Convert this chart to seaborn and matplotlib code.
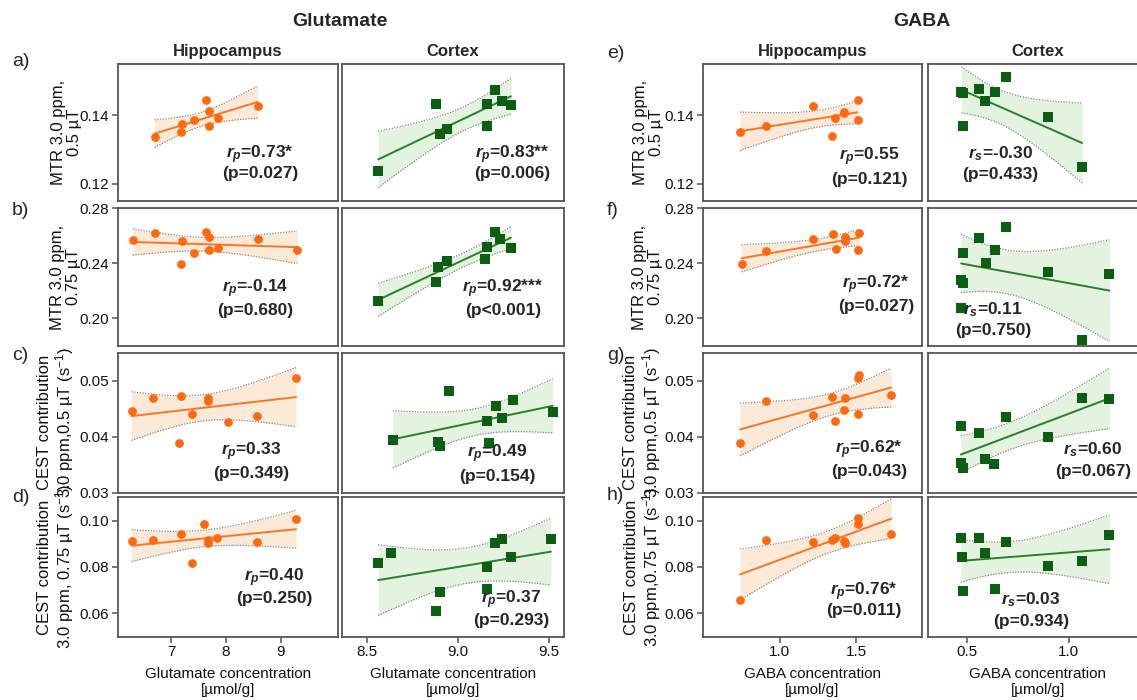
import numpy as np
import matplotlib
matplotlib.use("Agg")
import matplotlib.pyplot as plt
import seaborn as sns

# ---------------- data ----------------
# Glutamate - Hippocampus
glu_hip_a_x = [6.70, 7.18, 7.20, 7.41, 7.63, 7.70, 7.70, 7.86, 8.58]
glu_hip_a_y = [0.1338, 0.1350, 0.1374, 0.1387, 0.1446, 0.1413, 0.1369, 0.1393, 0.1427]
glu_hip_b_x = [6.30, 6.70, 7.18, 7.20, 7.41, 7.63, 7.70, 7.70, 7.86, 8.58, 9.30]
glu_hip_b_y = [0.2571, 0.2618, 0.2398, 0.2563, 0.2474, 0.2630, 0.2594, 0.2498, 0.2510, 0.2578, 0.2498]
glu_hip_c_x = [6.28, 6.68, 7.15, 7.18, 7.39, 7.68, 7.68, 8.03, 8.56, 9.28]
glu_hip_c_y = [0.04455, 0.0470, 0.0388, 0.0473, 0.0440, 0.0470, 0.0463, 0.0426, 0.0437, 0.0504]
glu_hip_d_x = [6.28, 6.68, 7.18, 7.39, 7.61, 7.68, 7.68, 7.84, 8.56, 9.28]
glu_hip_d_y = [0.0913, 0.0917, 0.0940, 0.0819, 0.0987, 0.0915, 0.0905, 0.0925, 0.0907, 0.1006]
# Glutamate - Cortex
glu_ctx_a_x = [8.56, 8.88, 8.90, 8.94, 9.16, 9.16, 9.20, 9.24, 9.29]
glu_ctx_a_y = [0.1238, 0.1434, 0.1345, 0.1361, 0.1368, 0.1434, 0.1474, 0.1441, 0.1431]
glu_ctx_b_x = [8.56, 8.88, 8.89, 8.94, 9.15, 9.16, 9.20, 9.23, 9.29]
glu_ctx_b_y = [0.2126, 0.2268, 0.2376, 0.2417, 0.2429, 0.2522, 0.2628, 0.2575, 0.2510]
glu_ctx_c_x = [8.64, 8.89, 8.90, 8.95, 9.16, 9.17, 9.21, 9.24, 9.30, 9.52]
glu_ctx_c_y = [0.0395, 0.0391, 0.0383, 0.0481, 0.0428, 0.0389, 0.0455, 0.0433, 0.0465, 0.0444]
glu_ctx_d_x = [8.56, 8.63, 8.88, 8.90, 9.16, 9.16, 9.20, 9.24, 9.29, 9.51]
glu_ctx_d_y = [0.0819, 0.0862, 0.0611, 0.0691, 0.0802, 0.0704, 0.0903, 0.0919, 0.0841, 0.0920]
# GABA - Hippocampus
gaba_hip_e_x = [0.74, 0.91, 1.22, 1.34, 1.36, 1.42, 1.42, 1.51, 1.51]
gaba_hip_e_y = [0.1350, 0.1368, 0.1426, 0.1339, 0.1393, 0.1406, 0.1411, 0.1387, 0.1445]
gaba_hip_f_x = [0.75, 0.91, 1.22, 1.35, 1.37, 1.43, 1.43, 1.51, 1.52]
gaba_hip_f_y = [0.2395, 0.2493, 0.2576, 0.2616, 0.2504, 0.2588, 0.2564, 0.2497, 0.2623]
gaba_hip_g_x = [0.74, 0.91, 1.22, 1.34, 1.36, 1.42, 1.43, 1.51, 1.51, 1.52, 1.73]
gaba_hip_g_y = [0.0389, 0.0464, 0.0438, 0.0471, 0.0428, 0.0447, 0.0470, 0.0441, 0.0505, 0.0511, 0.0474]
gaba_hip_h_x = [0.74, 0.91, 1.22, 1.34, 1.36, 1.42, 1.43, 1.51, 1.51, 1.73]
gaba_hip_h_y = [0.0659, 0.0918, 0.0908, 0.0915, 0.0925, 0.0911, 0.0905, 0.1009, 0.0987, 0.0941]
# GABA - Cortex
gaba_ctx_e_x = [0.473, 0.479, 0.482, 0.561, 0.591, 0.636, 0.691, 0.898, 1.066]
gaba_ctx_e_y = [0.1467, 0.1464, 0.1370, 0.1477, 0.1443, 0.1469, 0.1513, 0.1394, 0.1250]
gaba_ctx_f_x = [0.479, 0.473, 0.482, 0.471, 0.561, 0.593, 0.636, 0.693, 0.900, 1.066, 1.20]
gaba_ctx_f_y = [0.2474, 0.2279, 0.2260, 0.2075, 0.2585, 0.2402, 0.2497, 0.2666, 0.2341, 0.1847, 0.2326]
gaba_ctx_g_x = [0.473, 0.470, 0.482, 0.559, 0.591, 0.634, 0.691, 0.896, 1.066, 1.20]
gaba_ctx_g_y = [0.0420, 0.0353, 0.0344, 0.0406, 0.0360, 0.0351, 0.0435, 0.0400, 0.0470, 0.0467]
gaba_ctx_h_x = [0.471, 0.477, 0.480, 0.559, 0.591, 0.636, 0.691, 0.898, 1.066, 1.20]
gaba_ctx_h_y = [0.0924, 0.0842, 0.0696, 0.0923, 0.0862, 0.0706, 0.0907, 0.0804, 0.0824, 0.0938]

# correlation annotations (coef symbol, value, p-text) per row for each column
glu_hip_stats = [("p", "0.73*", "(p=0.027)"), ("p", "-0.14", "(p=0.680)"),
                 ("p", "0.33", "(p=0.349)"), ("p", "0.40", "(p=0.250)")]
glu_ctx_stats = [("p", "0.83**", "(p=0.006)"), ("p", "0.92***", "(p<0.001)"),
                 ("p", "0.49", "(p=0.154)"), ("p", "0.37", "(p=0.293)")]
gaba_hip_stats = [("p", "0.55", "(p=0.121)"), ("p", "0.72*", "(p=0.027)"),
                  ("p", "0.62*", "(p=0.043)"), ("p", "0.76*", "(p=0.011)")]
gaba_ctx_stats = [("s", "-0.30", "(p=0.433)"), ("s", "0.11", "(p=0.750)"),
                  ("s", "0.60", "(p=0.067)"), ("s", "0.03", "(p=0.934)")]

row_ticks = [[0.12, 0.14], [0.20, 0.24, 0.28], [0.03, 0.04, 0.05], [0.06, 0.08, 0.10]]
row_tick_labels = [["0.12", "0.14"], ["0.20", "0.24", "0.28"], ["0.03", "0.04", "0.05"],
                   ["0.06", "0.08", "0.10"]]
row_ylims = [(0.115, 0.155), (0.18, 0.28), (0.03, 0.055), (0.05, 0.11)]
col_xticks = [[7, 8, 9], [8.5, 9.0, 9.5], [1.0, 1.5], [0.5, 1.0]]
col_xtick_labels = [["7", "8", "9"], ["8.5", "9.0", "9.5"], ["1.0", "1.5"], ["0.5", "1.0"]]
col_xlims = [(6.03, 10.04), (8.362, 9.58), (0.495, 1.934), (0.307, 1.388)]
left_ylabels = ["MTR 3.0 ppm,\n0.5 µT", "MTR 3.0 ppm,\n0.75 µT",
                "CEST contribution\n3.0 ppm,0.5 µT (s$^{-1}$)",
                "CEST contribution\n3.0 ppm, 0.75 µT (s$^{-1}$)"]
right_ylabels = ["MTR 3.0 ppm,\n0.5 µT", "MTR 3.0 ppm,\n0.75 µT",
                 "CEST contribution\n3.0 ppm,0.5 µT (s$^{-1}$)",
                 "CEST contribution\n3.0 ppm,0.75 µT (s$^{-1}$)"]
xlabels = ["Glutamate concentration\n[µmol/g]", "Glutamate concentration\n[µmol/g]",
           "GABA concentration\n[µmol/g]", "GABA concentration\n[µmol/g]"]
col_titles = ["Hippocampus", "Cortex", "Hippocampus", "Cortex"]
left_letters = ["a)", "b)", "c)", "d)"]
right_letters = ["e)", "f)", "g)", "h)"]

# ---------------- style ----------------
sns.set_theme(style="ticks")
plt.rcParams["font.family"] = ["Liberation Sans", "DejaVu Sans"]
plt.rcParams["mathtext.fontset"] = "custom"
plt.rcParams["mathtext.rm"] = "Liberation Sans"
plt.rcParams["mathtext.it"] = "Liberation Sans:italic"
plt.rcParams["mathtext.bf"] = "Liberation Sans:bold"
try:
    plt.rcParams["mathtext.bfit"] = "Liberation Sans:italic:bold"
    RSYM = r"\mathbfit{r}_{\mathbfit{%s}}"
except KeyError:
    RSYM = r"\mathit{r}_{\mathit{%s}}"

ORANGE_PT = "#FF6A10"
ORANGE_LN = "#F7772A"
ORANGE_FILL = "#FDE9D7"
GREEN_PT = "#0B5E12"
GREEN_LN = "#2A7F2A"
GREEN_FILL = "#E4F2E0"
FRAME = "#555555"
TXT = "#111111"

T_CRIT = {7: 2.3646, 8: 2.3060, 9: 2.2622, 10: 2.2281}

W, H = 1137, 700
fig = plt.figure(figsize=(W / 100, H / 100), dpi=100)

col_left = [117.8, 342.2, 702.6, 927.7]
col_w = [220.0, 221.4, 219.7, 220.0]
row_top = [64.0, 208.3, 352.7, 497.3]
row_bot = [201.0, 346.0, 492.7, 636.7]
# right edge of the y-label block, in axes fraction (left group, right group)
ylab_x_left = [-0.162, -0.167, -0.188, -0.188]
ylab_x_right = [-0.176, -0.178, -0.180, -0.178]

# annotation placement in axes fraction: (x, y line1, y line2)
ann_pos = [
    [(0.646, 0.336, 0.200), (0.767, 0.336, 0.200), (0.757, 0.326, 0.154), (0.329, 0.346, 0.191)],
    [(0.624, 0.419, 0.261), (0.726, 0.419, 0.261), (0.789, 0.446, 0.287), (0.297, 0.263, 0.110)],
    [(0.605, 0.293, 0.139), (0.699, 0.281, 0.119), (0.757, 0.305, 0.150), (0.751, 0.305, 0.150)],
    [(0.710, 0.426, 0.275), (0.762, 0.263, 0.113), (0.735, 0.323, 0.190), (0.470, 0.263, 0.108)],
]

xs = [
    [glu_hip_a_x, glu_ctx_a_x, gaba_hip_e_x, gaba_ctx_e_x],
    [glu_hip_b_x, glu_ctx_b_x, gaba_hip_f_x, gaba_ctx_f_x],
    [glu_hip_c_x, glu_ctx_c_x, gaba_hip_g_x, gaba_ctx_g_x],
    [glu_hip_d_x, glu_ctx_d_x, gaba_hip_h_x, gaba_ctx_h_x],
]
ys = [
    [glu_hip_a_y, glu_ctx_a_y, gaba_hip_e_y, gaba_ctx_e_y],
    [glu_hip_b_y, glu_ctx_b_y, gaba_hip_f_y, gaba_ctx_f_y],
    [glu_hip_c_y, glu_ctx_c_y, gaba_hip_g_y, gaba_ctx_g_y],
    [glu_hip_d_y, glu_ctx_d_y, gaba_hip_h_y, gaba_ctx_h_y],
]
stats = [glu_hip_stats, glu_ctx_stats, gaba_hip_stats, gaba_ctx_stats]

for r in range(4):
    for c in range(4):
        left = col_left[c] / W
        bottom = 1 - row_bot[r] / H
        ax = fig.add_axes([left, bottom, col_w[c] / W, (row_bot[r] - row_top[r]) / H])
        x = np.asarray(xs[r][c], dtype=float)
        y = np.asarray(ys[r][c], dtype=float)
        hip = c in (0, 2)
        pt_col = ORANGE_PT if hip else GREEN_PT
        ln_col = ORANGE_LN if hip else GREEN_LN
        fill_col = ORANGE_FILL if hip else GREEN_FILL
        marker = "o" if hip else "s"

        # analytic 95% confidence band of the OLS fit
        n = len(x)
        b1, b0 = np.polyfit(x, y, 1)
        resid = y - (b0 + b1 * x)
        s = np.sqrt(np.sum(resid ** 2) / (n - 2))
        sxx = np.sum((x - x.mean()) ** 2)
        xg = np.linspace(x.min(), x.max(), 200)
        yg = b0 + b1 * xg
        half = T_CRIT[n - 2] * s * np.sqrt(1.0 / n + (xg - x.mean()) ** 2 / sxx)
        ax.fill_between(xg, yg - half, yg + half, color=fill_col, lw=0, zorder=1)
        ax.plot(xg, yg - half, ls=(0, (1, 1.2)), color="#8a8a8a", lw=0.9, zorder=2)
        ax.plot(xg, yg + half, ls=(0, (1, 1.2)), color="#8a8a8a", lw=0.9, zorder=2)

        sns.regplot(x=x, y=y, ax=ax, scatter=False, ci=None, truncate=True,
                    color=ln_col, line_kws={"lw": 1.4, "zorder": 3})
        sns.scatterplot(x=x, y=y, ax=ax, marker=marker, color=pt_col,
                        s=(40 if hip else 42), linewidth=0, zorder=4, clip_on=False)

        ax.set_xlim(*col_xlims[c])
        ax.set_ylim(*row_ylims[r])
        for sp in ax.spines.values():
            sp.set_visible(True)
            sp.set_color(FRAME)
            sp.set_linewidth(1.3)
        ax.tick_params(axis="both", direction="out", length=4, width=1.1,
                       color=FRAME, labelsize=11, pad=2, labelcolor=TXT)
        if c in (0, 2):
            ax.set_yticks(row_ticks[r])
            ax.set_yticklabels(row_tick_labels[r])
            ax.set_ylabel((left_ylabels if c == 0 else right_ylabels)[r],
                          fontsize=12, color=TXT, linespacing=1.1)
            lx = (ylab_x_left if c == 0 else ylab_x_right)[r]
            ax.yaxis.set_label_coords(lx, 0.5)
        else:
            ax.set_yticks([])
        if r == 3:
            ax.set_xticks(col_xticks[c])
            ax.set_xticklabels(col_xtick_labels[c])
            ax.set_xlabel(xlabels[c], fontsize=11, labelpad=6, color=TXT,
                          linespacing=1.15)
        else:
            ax.set_xticks([])
        if r == 0:
            ax.set_title(col_titles[c], fontsize=12, fontweight="bold", pad=6)

        sym, val, ptxt = stats[c][r]
        px, py1, py2 = ann_pos[r][c]
        ax.text(px, py1, "$" + (RSYM % sym) + "$=" + val, transform=ax.transAxes,
                ha="center", va="center", fontsize=12.5, fontweight="bold", zorder=5)
        ax.text(px, py2, ptxt, transform=ax.transAxes, ha="center", va="center",
                fontsize=12.5, fontweight="bold", zorder=5)

# group titles
fig.text(340 / W, 1 - 22 / H, "Glutamate", ha="center", va="center",
         fontsize=14, fontweight="bold")
fig.text(921.5 / W, 1 - 22 / H, "GABA", ha="center", va="center",
         fontsize=14, fontweight="bold")

# panel letters
left_letter_y = [62, 210, 355, 497]
right_letter_y = [53, 210, 355, 495]
for i in range(4):
    fig.text(12 / W, 1 - left_letter_y[i] / H, left_letters[i], ha="left",
             va="center", fontsize=14)
    fig.text(607 / W, 1 - right_letter_y[i] / H, right_letters[i], ha="left",
             va="center", fontsize=14)

fig.savefig("out.png", dpi=100)
